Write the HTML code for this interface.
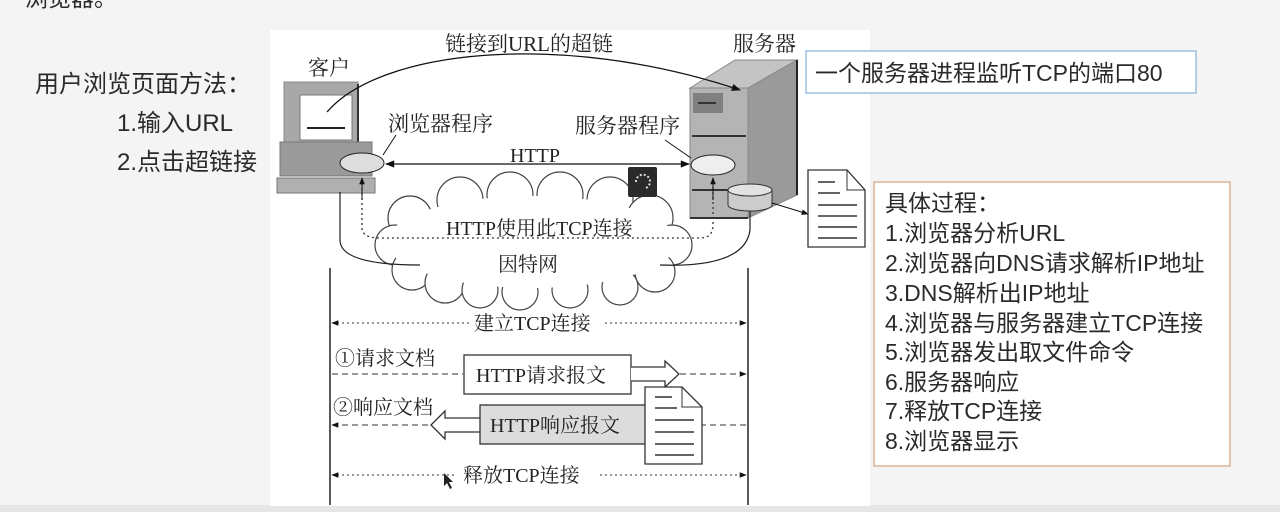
<!DOCTYPE html>
<html><head><meta charset="utf-8"><style>
html,body{margin:0;padding:0;width:1280px;height:512px;overflow:hidden;background:#f3f3f3}
svg{display:block}
.s{font-family:"Liberation Serif","Noto Serif CJK SC",serif;fill:#222}
.a{font-family:"Liberation Sans","Noto Sans CJK SC",sans-serif;fill:#2a2a2a}
</style></head><body>
<svg width="1280" height="512" viewBox="0 0 1280 512" xmlns="http://www.w3.org/2000/svg">
<defs>
<marker id="ah" viewBox="0 0 10 10" refX="9" refY="5" markerWidth="9" markerHeight="7" orient="auto-start-reverse"><path d="M0,1 L10,5 L0,9 z" fill="#111"/></marker>
</defs>
<rect x="0" y="0" width="1280" height="512" fill="#f4f4f4"/>
<rect x="0" y="505" width="1280" height="7" fill="#e6e6e6"/>
<text class="a" x="25" y="6" font-size="23">浏览器。</text>
<rect x="270" y="30" width="600" height="476" fill="#fff"/>
<text class="a" x="35" y="92" font-size="24">用户浏览页面方法：</text>
<text class="a" x="117" y="131" font-size="24">1.输入URL</text>
<text class="a" x="117" y="170" font-size="24">2.点击超链接</text>
<rect x="806" y="51" width="390" height="42" fill="#fff" stroke="#9fc0e0" stroke-width="1.5"/>
<text class="a" x="815" y="81" font-size="23">一个服务器进程监听TCP的端口80</text>
<rect x="874" y="182" width="356" height="284" fill="#fff" stroke="#d8b595" stroke-width="1.5"/>
<g class="a" font-size="23">
<text x="885" y="211">具体过程：</text>
<text x="885" y="241">1.浏览器分析URL</text>
<text x="885" y="271">2.浏览器向DNS请求解析IP地址</text>
<text x="885" y="301">3.DNS解析出IP地址</text>
<text x="885" y="331">4.浏览器与服务器建立TCP连接</text>
<text x="885" y="360">5.浏览器发出取文件命令</text>
<text x="885" y="390">6.服务器响应</text>
<text x="885" y="419">7.释放TCP连接</text>
<text x="885" y="449">8.浏览器显示</text>
</g>
<text class="s" x="445" y="51" font-size="21">链接到URL的超链</text>
<text class="s" x="308" y="75" font-size="21">客户</text>
<text class="s" x="733" y="51" font-size="21">服务器</text>
<text class="s" x="388" y="131" font-size="21">浏览器程序</text>
<text class="s" x="575" y="133" font-size="21">服务器程序</text>
<rect x="284" y="82" width="74" height="60" fill="#a8a8a8" stroke="#888"/>
<rect x="300" y="95" width="52" height="45" fill="#fff" stroke="#777"/>
<line x1="307" y1="128" x2="345" y2="128" stroke="#222" stroke-width="2"/>
<line x1="358" y1="84" x2="358" y2="142" stroke="#333" stroke-width="2"/>
<rect x="280" y="142" width="92" height="34" fill="#9a9a9a" stroke="#777"/>
<rect x="277" y="178" width="98" height="15" fill="#b0b0b0" stroke="#777"/>
<polygon points="690,88 735,60 797,60 748,88" fill="#c4c4c4" stroke="#888"/>
<polygon points="748,88 797,60 797,195 748,218" fill="#9a9a9a" stroke="#888"/>
<rect x="690" y="88" width="58" height="130" fill="#b4b4b4" stroke="#888"/>
<line x1="797" y1="60" x2="797" y2="195" stroke="#222" stroke-width="2"/>
<rect x="693" y="93" width="30" height="20" fill="#808080"/>
<line x1="698" y1="103" x2="716" y2="103" stroke="#333" stroke-width="2"/>
<line x1="692" y1="136" x2="746" y2="136" stroke="#333" stroke-width="2"/>
<line x1="692" y1="190" x2="746" y2="190" stroke="#333" stroke-width="2"/>
<line x1="690" y1="218" x2="748" y2="218" stroke="#333" stroke-width="2"/>
<path d="M327,112 C380,50 560,30 740,90" fill="none" stroke="#111" stroke-width="1.3" marker-end="url(#ah)"/>
<g fill="#fff" stroke="#444" stroke-width="1.2">
<circle cx="410" cy="218" r="22"/><circle cx="395" cy="245" r="20"/><circle cx="412" cy="270" r="20"/><circle cx="445" cy="283" r="20"/>
<circle cx="460" cy="200" r="23"/><circle cx="510" cy="195" r="23"/><circle cx="560" cy="195" r="23"/><circle cx="610" cy="200" r="23"/>
<circle cx="650" cy="218" r="23"/><circle cx="672" cy="245" r="20"/><circle cx="655" cy="272" r="20"/><circle cx="620" cy="287" r="18"/>
<circle cx="570" cy="290" r="18"/><circle cx="520" cy="292" r="18"/><circle cx="480" cy="290" r="18"/>
</g>
<ellipse cx="532" cy="242" rx="145" ry="46" fill="#fff"/>
<text class="s" x="510" y="162" font-size="20">HTTP</text>
<path d="M340,192 L340,240 Q340,265 420,265" fill="none" stroke="#222" stroke-width="1.2"/>
<path d="M750,205 L750,230 Q745,268 660,265" fill="none" stroke="#222" stroke-width="1.2"/>
<path d="M362,178 L362,228 Q362,238 380,238 L700,238 Q713,238 713,225 L713,178" fill="none" stroke="#333" stroke-width="1.3" stroke-dasharray="2,3"/>
<line x1="362" y1="200" x2="362" y2="178" stroke="#111" marker-end="url(#ah)"/>
<line x1="713" y1="200" x2="713" y2="178" stroke="#111" marker-end="url(#ah)"/>
<text class="s" x="446" y="235" font-size="20">HTTP使用此TCP连接</text>
<text class="s" x="498" y="271" font-size="20">因特网</text>
<ellipse cx="362" cy="163" rx="22" ry="10" fill="#ddd" stroke="#222"/>
<ellipse cx="713" cy="165" rx="22" ry="10" fill="#eee" stroke="#222"/>
<line x1="386" y1="164" x2="689" y2="164" stroke="#111" stroke-width="1.3" marker-start="url(#ah)" marker-end="url(#ah)"/>
<line x1="383" y1="155" x2="396" y2="135" stroke="#111"/>
<line x1="691" y1="158" x2="665" y2="140" stroke="#111"/>
<path d="M728,190 L728,205 A22,6 0 0 0 772,205 L772,190" fill="#ccc" stroke="#333"/>
<ellipse cx="750" cy="190" rx="22" ry="6" fill="#e2e2e2" stroke="#333"/>
<line x1="772" y1="203" x2="808" y2="214" stroke="#111" marker-end="url(#ah)"/>
<path d="M808,170 L847,170 L865,190 L865,247 L808,247 z" fill="#fff" stroke="#333" stroke-width="1.3"/>
<path d="M847,170 L847,190 L865,190" fill="none" stroke="#333"/>
<g stroke="#333" stroke-width="1.5"><line x1="818" y1="182" x2="835" y2="182"/><line x1="818" y1="193" x2="840" y2="193"/><line x1="818" y1="205" x2="857" y2="205"/><line x1="818" y1="216" x2="857" y2="216"/><line x1="818" y1="227" x2="857" y2="227"/><line x1="818" y1="238" x2="857" y2="238"/></g>
<rect x="628" y="167" width="29" height="30" rx="2" fill="#2a2a2a"/>
<path d="M636,182 A7,7 0 1 1 646,188" fill="none" stroke="#ddd" stroke-width="2" stroke-dasharray="2,2"/>
<line x1="330" y1="268" x2="330" y2="505" stroke="#222" stroke-width="1.5"/>
<line x1="748" y1="268" x2="748" y2="505" stroke="#222" stroke-width="1.5"/>
<line x1="332" y1="323" x2="470" y2="323" stroke="#333" stroke-dasharray="2,3" marker-start="url(#ah)"/>
<line x1="605" y1="323" x2="746" y2="323" stroke="#333" stroke-dasharray="2,3" marker-end="url(#ah)"/>
<text class="s" x="474" y="330" font-size="20">建立TCP连接</text>
<text class="s" x="335" y="365" font-size="20">①请求文档</text>
<line x1="332" y1="374" x2="463" y2="374" stroke="#333" stroke-dasharray="6,4"/>
<line x1="680" y1="374" x2="746" y2="374" stroke="#333" stroke-dasharray="6,4" marker-end="url(#ah)"/>
<rect x="464" y="355" width="167" height="39" fill="#fff" stroke="#333" stroke-width="1.3"/>
<text class="s" x="476" y="382" font-size="20">HTTP请求报文</text>
<path d="M631,367 L665,367 L665,361 L679,374 L665,387 L665,381 L631,381" fill="#fff" stroke="#333" stroke-width="1.3"/>
<text class="s" x="333" y="414" font-size="20">②响应文档</text>
<line x1="332" y1="425" x2="430" y2="425" stroke="#333" stroke-dasharray="6,4" marker-start="url(#ah)"/>
<line x1="700" y1="425" x2="746" y2="425" stroke="#333" stroke-dasharray="6,4"/>
<path d="M480,418 L445,418 L445,411 L431,425 L445,439 L445,432 L480,432" fill="#fff" stroke="#333" stroke-width="1.3"/>
<rect x="480" y="405" width="166" height="39" fill="#dcdcdc" stroke="#333" stroke-width="1.3"/>
<text class="s" x="490" y="432" font-size="20">HTTP响应报文</text>
<path d="M645,387 L682,387 L702,407 L702,464 L645,464 z" fill="#fff" stroke="#333" stroke-width="1.3"/>
<path d="M682,387 L682,407 L702,407" fill="none" stroke="#333"/>
<g stroke="#333" stroke-width="1.5"><line x1="655" y1="397" x2="672" y2="397"/><line x1="655" y1="408" x2="677" y2="408"/><line x1="655" y1="420" x2="694" y2="420"/><line x1="655" y1="432" x2="694" y2="432"/><line x1="655" y1="444" x2="694" y2="444"/><line x1="655" y1="455" x2="694" y2="455"/></g>
<line x1="332" y1="475" x2="455" y2="475" stroke="#333" stroke-dasharray="2,3" marker-start="url(#ah)"/>
<line x1="600" y1="475" x2="746" y2="475" stroke="#333" stroke-dasharray="2,3" marker-end="url(#ah)"/>
<text class="s" x="463" y="482" font-size="20">释放TCP连接</text>
<path d="M444,473 L444,486 L447,483 L450,489 L452,488 L449,482 L453,482 z" fill="#222"/>
</svg>
</body></html>
